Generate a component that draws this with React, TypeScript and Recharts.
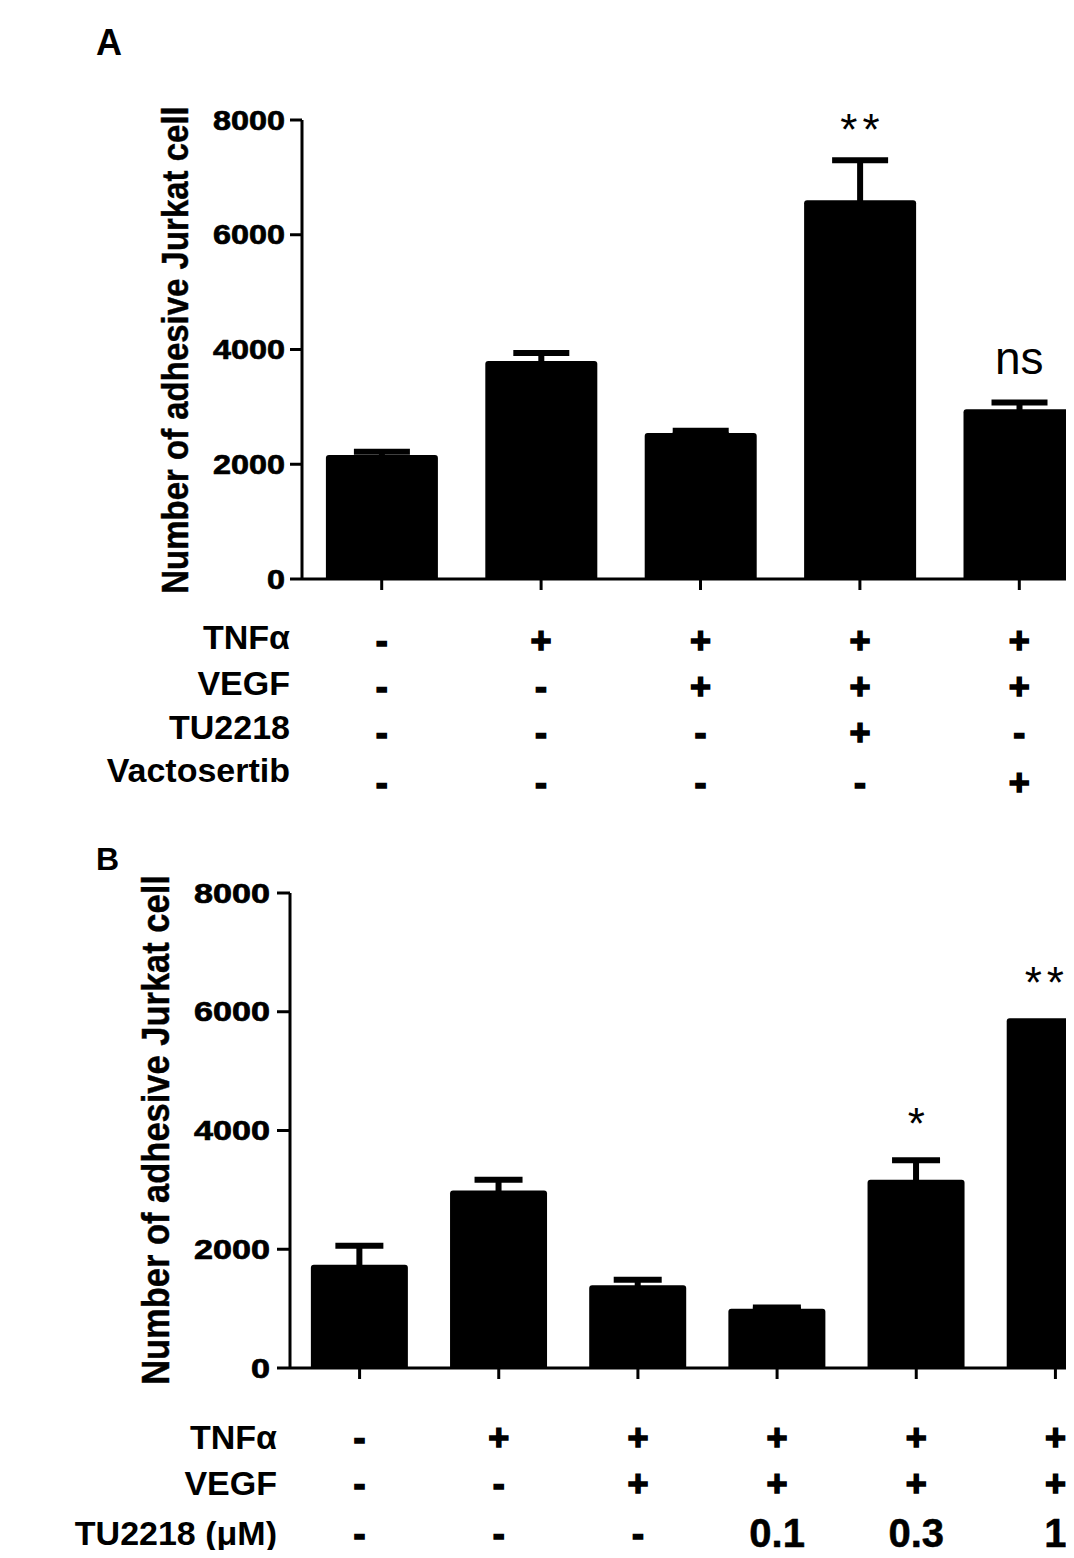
import React from 'react';
import { BarChart, Bar, XAxis, YAxis, ErrorBar, ReferenceDot } from 'recharts';

const FONT = '"Liberation Sans", Arial, sans-serif';

// Panel A
const groupsA = ['A1', 'A2', 'A3', 'A4', 'A5'];
const meanA = [2160, 3800, 2545, 6600, 2960];
const errA = [60, 140, 40, 700, 115];
const tnfA = ['-', '+', '+', '+', '+'];
const vegfA = ['-', '-', '+', '+', '+'];
const tuA = ['-', '-', '-', '+', '-'];
const vacA = ['-', '-', '-', '-', '+'];
const rowNamesA = ['TNFα', 'VEGF', 'TU2218', 'Vactosertib'];
const sigGroupsA = ['A4', 'A5'];
const sigTextA = ['**', 'ns'];

// Panel B
const groupsB = ['B1', 'B2', 'B3', 'B4', 'B5', 'B6'];
const meanB = [1740, 2990, 1395, 1000, 3170, 5890];
const errB = [320, 180, 90, 20, 330, 0];
const tnfB = ['-', '+', '+', '+', '+', '+'];
const vegfB = ['-', '-', '+', '+', '+', '+'];
const tuB = ['-', '-', '-', '0.1', '0.3', '1'];
const rowNamesB = ['TNFα', 'VEGF', 'TU2218 (μM)'];
const sigGroupsB = ['B5', 'B6'];
const sigTextB = ['*', '***'];

const yTicks = [0, 2000, 4000, 6000, 8000];

const dataA = groupsA.map((g, i) => ({ group: g, mean: meanA[i], err: errA[i] }));
const dataB = groupsB.map((g, i) => ({ group: g, mean: meanB[i], err: errB[i] }));

const makeYTick = (perChar: number) => (props: any) => {
  const { x, y, payload } = props;
  const s = String(payload.value);
  return (
    <text
      x={x}
      y={y}
      textAnchor="end"
      dominantBaseline="central"
      fontFamily={FONT}
      fontWeight="bold"
      fontSize={28}
      textLength={s.length * perChar}
      lengthAdjust="spacingAndGlyphs"
      fill="#000"
      stroke="#000"
      strokeWidth={0.7}
    >
      {s}
    </text>
  );
};

const makeRowTick = (groups: string[], rows: string[][], offsets: number[]) => (props: any) => {
  const { x, y, payload } = props;
  const i = groups.indexOf(payload.value);
  return (
    <g>
      {rows.map((row, r) => {
        const v = row[i];
        const isSign = v === '+' || v === '-';
        return (
          <text
            key={r}
            x={x}
            y={y + offsets[r]}
            textAnchor="middle"
            dominantBaseline="central"
            fontFamily={FONT}
            fontWeight="bold"
            fontSize={isSign ? 36 : 40}
            fill="#000"
            stroke="#000"
            strokeWidth={isSign ? 1.5 : 0.5}
          >
            {v}
          </text>
        );
      })}
    </g>
  );
};

// significance text sits `gap` px above the error-bar cap
const sigLabel = (text: string, size: number, gap: number, spacing: number) => (props: any) => {
  const vb = props.viewBox || {};
  const cx = (vb.x ?? 0) + (vb.width ?? 0) / 2;
  const cy = (vb.y ?? 0) + (vb.height ?? 0) / 2;
  return (
    <text
      x={cx + spacing / 2}
      y={cy - gap}
      textAnchor="middle"
      fontFamily={FONT}
      fontSize={size}
      letterSpacing={spacing}
      fill="#000"
    >
      {text}
    </text>
  );
};

const sigStyle: Record<string, [number, number, number]> = {
  '**': [44, 15, 5],
  ns: [46, 29, 0],
  '*': [44, 21, 0],
  '***': [44, 20, 5],
};

export default function App() {
  return (
    <div
      style={{
        position: 'relative',
        width: 1074,
        height: 1558,
        margin: -8,
        overflow: 'hidden',
        background: '#fff',
        fontFamily: FONT,
      }}
    >
      {/* Panel A */}
      <div style={{ position: 'absolute', left: 0, top: 0 }}>
        <BarChart
          width={1099}
          height={819}
          data={dataA}
          margin={{ top: 120, right: 0, bottom: 0, left: 0 }}
          barCategoryGap="15%"
        >
          <XAxis
            dataKey="group"
            height={240}
            axisLine={{ stroke: '#000', strokeWidth: 3 }}
            tickLine={{ stroke: '#000', strokeWidth: 3 }}
            tickSize={11}
            tickMargin={0}
            interval={0}
            tick={makeRowTick(groupsA, [tnfA, vegfA, tuA, vacA], [50, 96, 142, 192])}
          />
          <YAxis
            width={302}
            domain={[0, 8000]}
            ticks={yTicks}
            interval={0}
            axisLine={{ stroke: '#000', strokeWidth: 3 }}
            tickLine={{ stroke: '#000', strokeWidth: 3 }}
            tickSize={12}
            tickMargin={5}
            tick={makeYTick(18)}
          />
          <Bar dataKey="mean" fill="#000" radius={[3, 3, 0, 0]} isAnimationActive={false}>
            <ErrorBar dataKey="err" width={28} strokeWidth={6} stroke="#000" />
          </Bar>
          {sigGroupsA.map((g, k) => {
            const i = groupsA.indexOf(g);
            const [size, gap, sp] = sigStyle[sigTextA[k]];
            return (
              <ReferenceDot
                key={g}
                x={g}
                y={meanA[i] + errA[i]}
                r={1}
                fill="none"
                stroke="none"
                label={sigLabel(sigTextA[k], size, gap, sp)}
              />
            );
          })}
        </BarChart>
      </div>

      {/* Panel B */}
      <div style={{ position: 'absolute', left: 0, top: 800 }}>
        <BarChart
          width={1125}
          height={768}
          data={dataB}
          margin={{ top: 93, right: 0, bottom: 0, left: 0 }}
          barCategoryGap="15%"
        >
          <XAxis
            dataKey="group"
            height={200}
            axisLine={{ stroke: '#000', strokeWidth: 3 }}
            tickLine={{ stroke: '#000', strokeWidth: 3 }}
            tickSize={11}
            tickMargin={0}
            interval={0}
            tick={makeRowTick(groupsB, [tnfB, vegfB, tuB], [58, 104, 154])}
          />
          <YAxis
            width={290}
            domain={[0, 8000]}
            ticks={yTicks}
            interval={0}
            axisLine={{ stroke: '#000', strokeWidth: 3 }}
            tickLine={{ stroke: '#000', strokeWidth: 3 }}
            tickSize={13}
            tickMargin={7}
            tick={makeYTick(19)}
          />
          <Bar dataKey="mean" fill="#000" radius={[3, 3, 0, 0]} isAnimationActive={false}>
            <ErrorBar dataKey="err" width={24} strokeWidth={6} stroke="#000" />
          </Bar>
          {sigGroupsB.map((g, k) => {
            const i = groupsB.indexOf(g);
            const [size, gap, sp] = sigStyle[sigTextB[k]];
            return (
              <ReferenceDot
                key={g}
                x={g}
                y={meanB[i] + errB[i]}
                r={1}
                fill="none"
                stroke="none"
                label={sigLabel(sigTextB[k], size, gap, sp)}
              />
            );
          })}
        </BarChart>
      </div>

      {/* titles, panel letters and treatment row names */}
      <svg
        width={1074}
        height={1558}
        style={{ position: 'absolute', left: 0, top: 0, pointerEvents: 'none' }}
      >
        <text x={96} y={55} fontFamily={FONT} fontWeight="bold" fontSize={36} fill="#000">
          A
        </text>
        <text x={96} y={870} fontFamily={FONT} fontWeight="bold" fontSize={32} fill="#000">
          B
        </text>
        <text
          transform="translate(188,350) rotate(-90) scale(1,1.12)"
          textAnchor="middle"
          fontFamily={FONT}
          fontWeight="bold"
          fontSize={33}
          fill="#000"
          stroke="#000"
          strokeWidth={0.4}
        >
          Number of adhesive Jurkat cell
        </text>
        <text
          transform="translate(169,1130) rotate(-90) scale(1,1.15)"
          textAnchor="middle"
          fontFamily={FONT}
          fontWeight="bold"
          fontSize={34.5}
          fill="#000"
          stroke="#000"
          strokeWidth={0.4}
        >
          Number of adhesive Jurkat cell
        </text>
        {rowNamesA.map((n, r) => (
          <text
            key={n}
            x={290}
            y={[637, 683, 727, 770][r]}
            textAnchor="end"
            dominantBaseline="central"
            fontFamily={FONT}
            fontWeight="bold"
            fontSize={34}
            fill="#000"
          >
            {n}
          </text>
        ))}
        {rowNamesB.map((n, r) => (
          <text
            key={n}
            x={277}
            y={[1437, 1483, 1533][r]}
            textAnchor="end"
            dominantBaseline="central"
            fontFamily={FONT}
            fontWeight="bold"
            fontSize={34}
            fill="#000"
          >
            {n}
          </text>
        ))}
      </svg>
    </div>
  );
}
